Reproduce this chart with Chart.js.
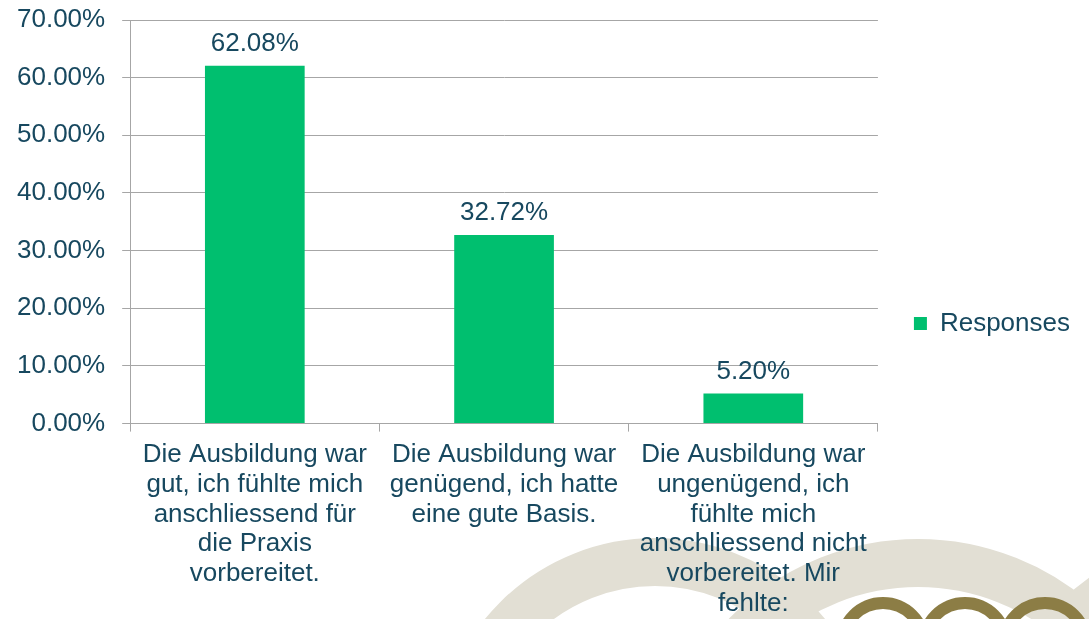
<!DOCTYPE html>
<html>
<head>
<meta charset="utf-8">
<script src="https://cdn.jsdelivr.net/npm/chart.js@4"></script>
<style>
  html, body { margin: 0; padding: 0; background: #ffffff; }
  #wrap { position: relative; width: 1089px; height: 619px; overflow: hidden; }
  #bg { position: absolute; left: 0; top: 0; }
  #barChart { position: absolute; left: 0; top: 0; }
</style>
</head>
<body>
<div id="wrap">
  <!-- watermark logo in the background -->
  <svg id="bg" width="1089" height="619">
    <g fill="none" stroke="#E2DFD4" stroke-width="48">
      <circle cx="655" cy="757" r="195" />
      <circle cx="918" cy="803" r="240" />
      <circle cx="1215" cy="757" r="195" />
    </g>
    <g fill="none" stroke="#8C7D45" stroke-width="12">
      <circle cx="883" cy="644" r="41" />
      <circle cx="965" cy="644" r="41" />
      <circle cx="1045" cy="644" r="41" />
    </g>
  </svg>
  <canvas id="barChart" width="1089" height="619"></canvas>
</div>
<script>
const categories = [
  ["Die Ausbildung war", "gut, ich fühlte mich", "anschliessend für", "die Praxis", "vorbereitet."],
  ["Die Ausbildung war", "genügend, ich hatte", "eine gute Basis."],
  ["Die Ausbildung war", "ungenügend, ich", "fühlte mich", "anschliessend nicht", "vorbereitet. Mir", "fehlte:"],
];
const responses = [62.08, 32.72, 5.2];
const seriesName = "Responses";

const textColor = "#17485F";
const gridColor = "#A6A6A6";
const fontFamily = "'Liberation Sans', Arial, sans-serif";

// value labels above each bar
const valueLabels = {
  id: "valueLabels",
  afterDatasetsDraw(chart) {
    const ctx = chart.ctx;
    ctx.save();
    ctx.font = "26px " + fontFamily;
    ctx.fillStyle = textColor;
    ctx.textAlign = "center";
    ctx.textBaseline = "alphabetic";
    chart.getDatasetMeta(0).data.forEach((bar, i) => {
      ctx.fillText(responses[i].toFixed(2) + "%", bar.x, bar.y - 15);
    });
    ctx.restore();
  },
};

const ctx = document.getElementById("barChart").getContext("2d");

let chart = new Chart(ctx, {
  type: "bar",
  data: {
    labels: categories,
    datasets: [
      {
        label: seriesName,
        data: responses,
        backgroundColor: "#00BF6F",
        categoryPercentage: 1,
        barPercentage: 0.4,
      },
    ],
  },
  options: {
    responsive: false,
    animation: false,
    layout: {
      padding: { left: 0, right: 9, top: 20, bottom: -8 },
    },
    plugins: {
      tooltip: { enabled: false },
      legend: {
        position: "right",
        labels: {
          boxWidth: 13,
          boxHeight: 13,
          padding: 36,
          color: textColor,
          font: { family: fontFamily, size: 26 },
        },
      },
    },
    scales: {
      x: {
        grid: {
          drawOnChartArea: false,
          drawTicks: true,
          tickLength: 8,
          color: gridColor,
        },
        border: { display: true, color: gridColor },
        ticks: {
          autoSkip: false,
          maxRotation: 0,
          minRotation: 0,
          padding: 8,
          color: textColor,
          font: { family: fontFamily, size: 26, lineHeight: 1.15 },
        },
      },
      y: {
        min: 0,
        max: 70,
        grid: { color: gridColor, tickLength: 8 },
        border: { display: true, color: gridColor },
        // the top label may overlap the top padding
        afterFit: function (scale) {
          scale.paddingTop = 0;
        },
        ticks: {
          stepSize: 10,
          padding: 17,
          color: textColor,
          font: { family: fontFamily, size: 26, lineHeight: 1.15 },
          callback: function (value) {
            return value.toFixed(2) + "%";
          },
        },
      },
    },
  },
  plugins: [valueLabels],
});
</script>
</body>
</html>
